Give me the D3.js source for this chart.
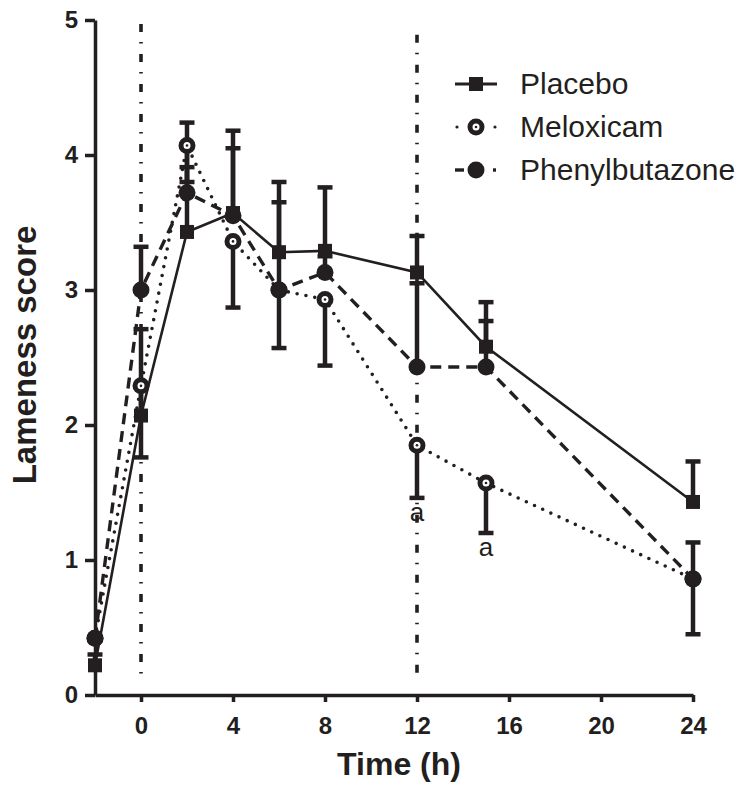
<!DOCTYPE html>
<html>
<head>
<meta charset="utf-8">
<script src="https://cdn.jsdelivr.net/npm/d3@7/dist/d3.min.js"></script>
<style>
  html, body { margin: 0; padding: 0; background: #fff; }
  svg { display: block; }
  text { font-family: "Liberation Sans", Arial, Helvetica, sans-serif; fill: #231f20; }
</style>
</head>
<body>
<script>
// ---------- data ----------
const times = [-2, 0, 2, 4, 6, 8, 12, 15, 24];
const xTicks = [0, 4, 8, 12, 16, 20, 24];
const yTicks = [0, 1, 2, 3, 4, 5];

const placeboMean  = [0.22, 2.07, 3.43, 3.57, 3.28, 3.29, 3.13, 2.58, 1.43];
const placeboUpper = [0.30, 2.71, 4.24, 4.18, 3.80, 3.76, 3.40, 2.91, 1.73];

const meloxicamMean  = [0.42, 2.29, 4.07, 3.36, 3.00, 2.93, 1.85, 1.57, 0.86];
const meloxicamLower = [0.42, 1.76, 3.80, 2.87, 2.57, 2.44, 1.46, 1.20, 0.45];

const phenylMean  = [0.42, 3.00, 3.72, 3.55, 3.00, 3.13, 2.43, 2.43, 0.86];
const phenylUpper = [0.42, 3.32, 3.91, 4.05, 3.65, 3.25, 3.05, 2.77, 1.13];

const legendLabels = ["Placebo", "Meloxicam", "Phenylbutazone"];
const refLineTimes = [0, 12];
const refLineTops = [4.97, 4.89];
const refLineBottom = 0.1;
const sigLabels = [{t: 12, v: 1.29, text: "a"}, {t: 15, v: 1.03, text: "a"}];

// ---------- setup ----------
const W = 749, H = 791;
const ink = "#231f20";
const svg = d3.select("body").append("svg").attr("width", W).attr("height", H);

const x = d3.scaleLinear().domain([-2, 24]).range([95, 693]);
const y = d3.scaleLinear().domain([0, 5]).range([695, 20]);

// reference dash-dot lines
refLineTimes.forEach((t, i) => {
  svg.append("line")
    .attr("x1", x(t)).attr("x2", x(t))
    .attr("y1", y(refLineTops[i])).attr("y2", y(refLineBottom))
    .attr("stroke", ink).attr("stroke-width", 3.6)
    .attr("stroke-dasharray", "8,10,1.5,10.5");
});

// axes
const yAxis = svg.append("g").attr("transform", `translate(${x(-2)},0)`)
  .call(d3.axisLeft(y).tickValues(yTicks).tickFormat(d3.format("d")).tickSize(10).tickSizeOuter(0).tickPadding(7));
const xAxis = svg.append("g").attr("transform", `translate(0,${y(0)})`)
  .call(d3.axisBottom(x).tickValues(xTicks).tickFormat(d3.format("d")).tickSize(7).tickSizeOuter(0).tickPadding(15));
[yAxis, xAxis].forEach(g => {
  g.select(".domain").attr("stroke", ink).attr("stroke-width", 3.5);
  g.selectAll(".tick line").attr("stroke", ink).attr("stroke-width", 3.5);
  g.selectAll(".tick text").attr("font-size", 24).attr("font-weight", "bold")
    .attr("font-family", '"Liberation Sans", Arial, sans-serif').attr("fill", ink);
});

// axis titles
svg.append("text").attr("x", 399).attr("y", 775)
  .attr("text-anchor", "middle").attr("font-size", 32).attr("font-weight", "bold")
  .text("Time (h)");
svg.append("text").attr("transform", `translate(36,355) rotate(-90)`)
  .attr("text-anchor", "middle").attr("font-size", 33).attr("font-weight", "bold")
  .text("Lameness score");

// series definitions
const series = [
  {name: "Placebo", mean: placeboMean, lo: placeboMean, hi: placeboUpper, dash: null, width: 2.6, marker: "square"},
  {name: "Meloxicam", mean: meloxicamMean, lo: meloxicamLower, hi: meloxicamMean, dash: "0,9", width: 3.6, cap: "round", marker: "ring"},
  {name: "Phenylbutazone", mean: phenylMean, lo: phenylMean, hi: phenylUpper, dash: "11,7", width: 3.4, marker: "disc"}
];

const line = d3.line().x((d, i) => x(times[i])).y(d => y(d));

// lines
series.forEach(s => {
  svg.append("path").datum(s.mean)
    .attr("d", line).attr("fill", "none").attr("stroke", ink)
    .attr("stroke-width", s.width)
    .attr("stroke-dasharray", s.dash)
    .attr("stroke-linecap", s.cap || "butt");
});

// error bars
series.forEach(s => {
  times.forEach((t, i) => {
    const lo = s.lo[i], hi = s.hi[i];
    if (Math.abs(hi - lo) < 0.02) return;
    const g = svg.append("g");
    g.append("line").attr("x1", x(t)).attr("x2", x(t)).attr("y1", y(lo)).attr("y2", y(hi))
      .attr("stroke", ink).attr("stroke-width", 4.5);
    const capV = (hi !== s.mean[i]) ? hi : lo;
    g.append("line").attr("x1", x(t) - 7.5).attr("x2", x(t) + 7.5).attr("y1", y(capV)).attr("y2", y(capV))
      .attr("stroke", ink).attr("stroke-width", 4.5);
  });
});

function drawMarker(g, type, cx, cy) {
  if (type === "square") {
    g.append("rect").attr("x", cx - 7).attr("y", cy - 7).attr("width", 14).attr("height", 14).attr("fill", ink);
  } else if (type === "ring") {
    g.append("circle").attr("cx", cx).attr("cy", cy).attr("r", 6).attr("fill", "#fff")
      .attr("stroke", ink).attr("stroke-width", 5);
    g.append("circle").attr("cx", cx).attr("cy", cy).attr("r", 1.3).attr("fill", ink);
  } else {
    g.append("circle").attr("cx", cx).attr("cy", cy).attr("r", 8.5).attr("fill", ink);
  }
}

// markers (meloxicam, placebo, then phenylbutazone on top)
[1, 0, 2].forEach(k => {
  const s = series[k];
  const g = svg.append("g");
  times.forEach((t, i) => drawMarker(g, s.marker, x(t), y(s.mean[i])));
});

// significance labels
sigLabels.forEach(d => {
  svg.append("text").attr("x", x(d.t)).attr("y", y(d.v))
    .attr("text-anchor", "middle").attr("font-size", 26).attr("fill", "#333").text(d.text);
});

// legend
const legY = [84, 127, 170];
series.forEach((s, i) => {
  const g = svg.append("g").attr("transform", `translate(0,${legY[i]})`);
  const x0 = 455, x1 = 497, cx = 476;
  if (s.marker === "square") {
    g.append("line").attr("x1", x0).attr("x2", x1).attr("y1", 0).attr("y2", 0).attr("stroke", ink).attr("stroke-width", 3);
  } else if (s.marker === "ring") {
    g.append("circle").attr("cx", x0 + 2).attr("cy", 0).attr("r", 1.6).attr("fill", ink);
    g.append("circle").attr("cx", x1 - 2).attr("cy", 0).attr("r", 1.6).attr("fill", ink);
  } else {
    g.append("line").attr("x1", x0).attr("x2", x0 + 9).attr("y1", 0).attr("y2", 0).attr("stroke", ink).attr("stroke-width", 3.4);
    g.append("line").attr("x1", x1 - 4).attr("x2", x1 - 1).attr("y1", 0).attr("y2", 0).attr("stroke", ink).attr("stroke-width", 3.4);
  }
  drawMarker(g, s.marker, cx, 0);
  g.append("text").attr("x", 520).attr("y", 10).attr("font-size", 30).text(legendLabels[i]);
});
</script>
</body>
</html>
